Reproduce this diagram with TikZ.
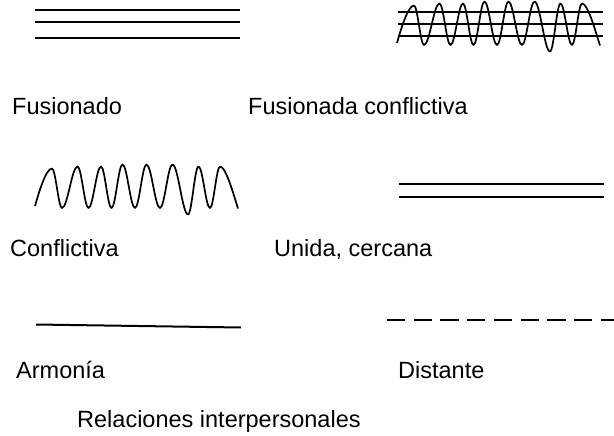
\documentclass[tikz,border=0pt]{standalone}
\usepackage{fontspec}
\setmainfont{Liberation Sans}
\begin{document}
\begin{tikzpicture}[x=1pt,y=-1pt,
  relline/.style={line width=2pt, line cap=butt},
  wavy/.style={line width=1.7pt, line join=round},
  dashline/.style={line width=1.5pt, dash pattern=on 18.3pt off 8.4pt},
  lbl/.style={anchor=base west, inner sep=0pt, font=\fontsize{23.5}{28}\selectfont},
  relwave/.pic={
    \draw[wavy] (0,0) .. controls (4,-14) and (11,-37.5) .. (17,-37.5)
      .. controls (20.6,-37.5) and (23.4,2) .. (27,2)
      .. controls (32.6,2) and (36.9,-39.5) .. (42.5,-39.5)
      .. controls (46.5,-39.5) and (49.5,2) .. (53.5,2)
      .. controls (58.05,2) and (61.45,-39.5) .. (66,-39.5)
      .. controls (69.8,-39.5) and (72.7,2) .. (76.5,2)
      .. controls (80.5,2) and (83.5,-41.5) .. (87.5,-41.5)
      .. controls (92.05,-41.5) and (95.45,2) .. (100,2)
      .. controls (104.2,2) and (107.3,-41.5) .. (111.5,-41.5)
      .. controls (116.4,-41.5) and (120.1,2) .. (125,2)
      .. controls (129.55,2) and (132.95,-41.5) .. (137.5,-41.5)
      .. controls (143.1,-41.5) and (147.4,8.5) .. (153,8.5)
      .. controls (156.8,8.5) and (159.7,-39.5) .. (163.5,-39.5)
      .. controls (167.7,-39.5) and (170.8,2) .. (175,2)
      .. controls (178.6,2) and (181.4,-39.5) .. (185,-39.5)
      .. controls (191,-39.5) and (199,-10) .. (203,2.5);
  }]
\useasboundingbox (0,0) rectangle (614,436);

% Fusionado
\draw[relline] (35,10) -- (240,10);
\draw[relline] (35,22) -- (240,22);
\draw[relline] (35,38) -- (240,38);

% Fusionada conflictiva
\draw[relline] (398,12) -- (603,12);
\draw[relline] (398,24) -- (603,24);
\draw[relline] (398,36) -- (603,36);
\pic at (397,43) {relwave};

% Conflictiva
\pic at (35,206) {relwave};

% Unida, cercana
\draw[relline] (399,184) -- (604,184);
\draw[relline] (399,197) -- (604,197);

% Armonia
\draw[relline] (36,324.5) -- (241,327.5);

% Distante
\draw[dashline] (387,320) -- (614,320);

% Labels
\node[lbl] (fusionado) at (12,115) {Fusionado};
\node[lbl] (fusconf) at (248,115) {Fusionada conflictiva};
\node[lbl] (conflictiva) at (10,256) {Conflictiva};
\node[lbl] (unida) at (274,256) {Unida, cercana};
\node[lbl] (armonia) at (16,378) {Armonía};
\node[lbl] (distante) at (398,378) {Distante};
\node[lbl] (relaciones) at (77,427) {Relaciones interpersonales};
\end{tikzpicture}
\end{document}
